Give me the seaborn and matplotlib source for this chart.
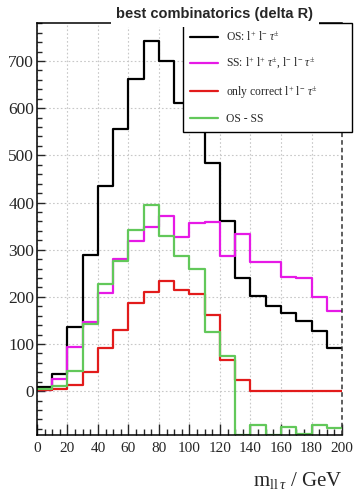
import numpy as np
import pandas as pd
import matplotlib
matplotlib.use("Agg")
import matplotlib.pyplot as plt
from matplotlib.ticker import MultipleLocator
import seaborn as sns

# Bin edges of the invariant-mass histogram (GeV)
bin_edges = list(range(0, 210, 10))

# Entries per 10 GeV bin
os_counts = [8, 36, 135, 289, 436, 556, 661, 742, 701, 612,
             615, 483, 361, 240, 202, 180, 166, 149, 128, 91]
ss_counts = [3, 26, 93, 146, 209, 280, 319, 347, 372, 326,
             356, 358, 287, 333, 273, 273, 243, 240, 199, 170]
correct_counts = [2, 4, 14, 40, 91, 129, 186, 211, 234, 214,
                  207, 161, 66, 23, 0, 0, 0, 0, 0, 0]
diff_counts = [5, 10, 42, 143, 227, 276, 342, 395, 329, 286,
               259, 125, 74, -93, -71, -93, -77, -91, -71, -79]

series_labels = [
    r"OS: l$^{+}$ l$^{-}$ $\tau^{\pm}$",
    r"SS: l$^{+}$ l$^{+}$ $\tau^{\pm}$, l$^{-}$ l$^{-}$ $\tau^{\pm}$",
    r"only correct l$^{+}$ l$^{-}$ $\tau^{\pm}$",
    "OS - SS",
]
series_colors = ["#000000", "#e619e6", "#e21b1b", "#62c85a"]

x_ticks = list(range(0, 220, 20))
y_ticks = list(range(0, 800, 100))

sns.set_theme(style="white")
plt.rcParams["font.family"] = ["Liberation Serif", "DejaVu Serif"]
plt.rcParams["mathtext.fontset"] = "custom"
plt.rcParams["mathtext.rm"] = "Liberation Serif"
plt.rcParams["mathtext.it"] = "Liberation Serif:italic"
plt.rcParams["mathtext.sf"] = "Liberation Serif"

centers = [(a + b) / 2 for a, b in zip(bin_edges[:-1], bin_edges[1:])]
frames = []
for name, vals in zip(series_labels, [os_counts, ss_counts, correct_counts, diff_counts]):
    frames.append(pd.DataFrame({"mass": centers, "count": vals, "series": name}))
df = pd.concat(frames, ignore_index=True)

fig = plt.figure(figsize=(3.57, 4.91), dpi=100)
ax = fig.add_axes([0.1036, 0.114, 0.8544, 0.8386])

for name, color in zip(series_labels, series_colors):
    sub = df[df["series"] == name]
    sns.histplot(data=sub, x="mass", weights="count", bins=bin_edges,
                 element="step", fill=False, color=color, linewidth=1.6,
                 ax=ax, label=name)

ax.set_xlim(0, 200)
ax.set_ylim(-93, 780)
ax.set_xticks(x_ticks)
ax.set_yticks(y_ticks)
ax.xaxis.set_minor_locator(MultipleLocator(5))
ax.yaxis.set_minor_locator(MultipleLocator(20))
ax.tick_params(axis="x", which="major", direction="in", length=8, width=1,
               labelsize=11, pad=5, bottom=True, top=False)
ax.tick_params(axis="x", which="minor", direction="in", length=4.5, width=1,
               bottom=True, top=False)
ax.tick_params(axis="y", which="major", direction="in", length=6, width=1,
               labelsize=12.5, pad=2, left=True, right=False)
ax.tick_params(axis="y", which="minor", direction="in", length=3.5, width=1,
               left=True, right=False)

ax.grid(True, which="major", linestyle=(0, (1.5, 2)), color="#c8c8c8", linewidth=0.8)
ax.set_axisbelow(True)
for side in ["left", "bottom", "top"]:
    ax.spines[side].set_color("black")
    ax.spines[side].set_linewidth(1.1)
ax.spines["right"].set_visible(False)
ax.axvline(200, color="#333333", linestyle=(0, (3, 2)), linewidth=1.1, clip_on=False)

ax.set_ylabel("")
ax.set_xlabel(r"$\mathrm{m}_{\mathrm{ll}\,\tau}$ / GeV", fontsize=15, loc="right")
ax.xaxis.set_label_coords(1.0, -0.085)

handles = [plt.Line2D([], [], color=c, linewidth=1.6) for c in series_colors]
leg = fig.legend(handles, series_labels, loc="upper left",
                 bbox_to_anchor=(0.513, 0.743, 0.474, 0.21), mode="expand",
                 fontsize=8.4, frameon=True, fancybox=False, edgecolor="black",
                 framealpha=1.0, facecolor="white",
                 handlelength=2.4, labelspacing=1.05, borderpad=0.6,
                 handletextpad=0.7, borderaxespad=0)
leg.get_frame().set_linewidth(1.0)
leg.set_zorder(5)

fig.text(0.602, 0.971, "best combinatorics (delta R)", ha="center", va="center",
         fontsize=10.5, fontweight="bold", family=["Liberation Sans", "DejaVu Sans"],
         bbox=dict(facecolor="white", edgecolor="none", pad=4), zorder=10)

fig.savefig("out.png", dpi=100)
